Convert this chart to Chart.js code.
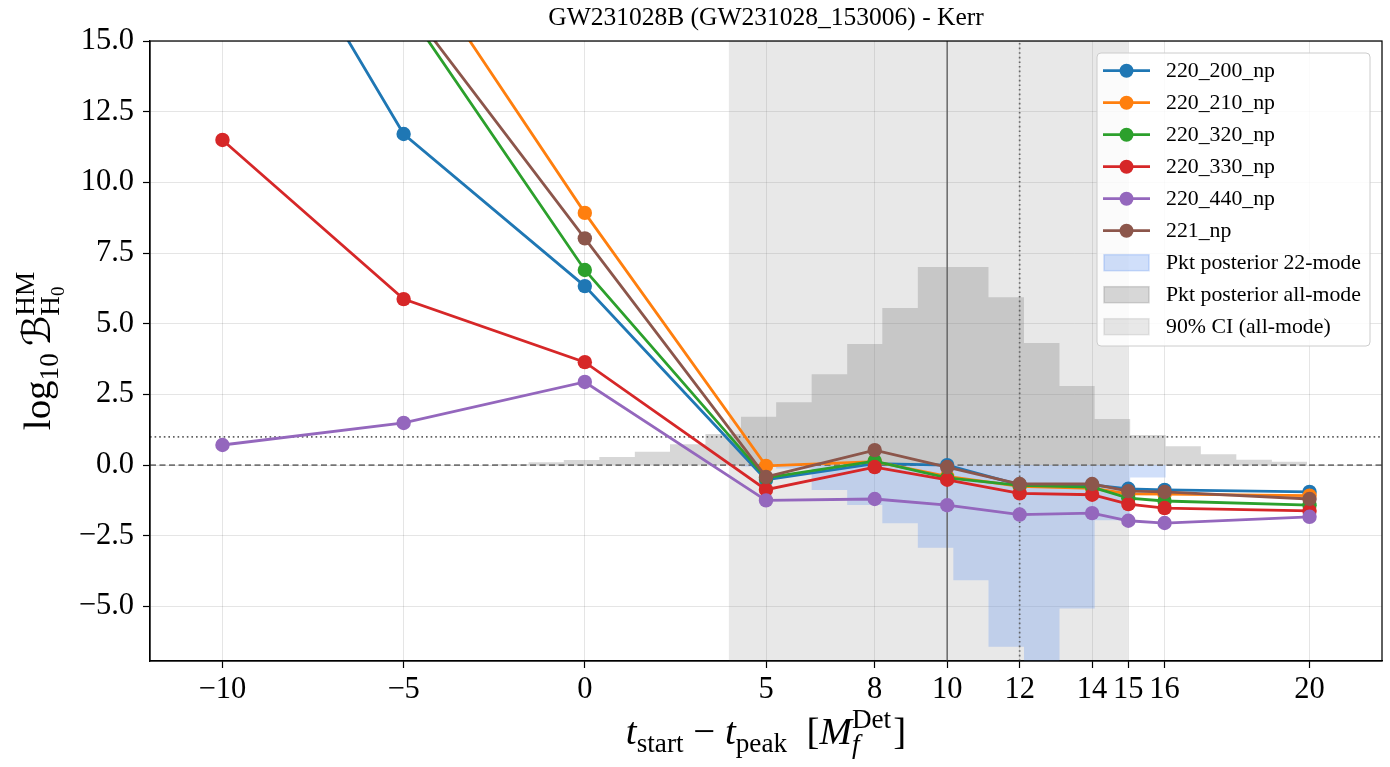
<!DOCTYPE html>
<html><head><meta charset="utf-8">
<script src="https://cdn.jsdelivr.net/npm/chart.js@4.4.1/dist/chart.umd.min.js"></script>
<style>html,body{margin:0;padding:0;background:#fff;}canvas{display:block;}</style>
</head><body>
<canvas id="c" width="1390" height="767"></canvas>
<script>
// ---------------- data ----------------
const titleText = 'GW231028B (GW231028_153006) - Kerr';
const tStart = [-10, -5, 0, 5, 8, 10, 12, 14, 15, 16, 20];
const xTicks = [-10, -5, 0, 5, 8, 10, 12, 14, 15, 16, 20];
const yTicks = [-5, -2.5, 0, 2.5, 5, 7.5, 10, 12.5, 15];
const xRange = [-12, 22];
const yRange = [-6.93, 15];

const seriesNames = ['220_200_np', '220_210_np', '220_320_np', '220_330_np', '220_440_np', '221_np'];
const seriesColors = ['#1f77b4', '#ff7f0e', '#2ca02c', '#d62728', '#9467bd', '#8c564b'];
const bf_220_200 = [22.5, 11.71, 6.33, -0.52, 0.05, 0.0, -0.70, -0.70, -0.84, -0.88, -0.95];
const bf_220_210 = [27.5, 18.5, 8.92, -0.03, 0.12, -0.40, -0.75, -0.82, -1.02, -1.03, -1.08];
const bf_220_320 = [25.0, 16.28, 6.90, -0.45, 0.14, -0.45, -0.72, -0.78, -1.17, -1.27, -1.42];
const bf_220_330 = [11.50, 5.87, 3.64, -0.87, -0.07, -0.52, -1.00, -1.05, -1.38, -1.52, -1.62];
const bf_220_440 = [0.71, 1.49, 2.94, -1.25, -1.20, -1.42, -1.75, -1.70, -1.97, -2.05, -1.83];
const bf_221     = [25.5, 16.45, 8.02, -0.42, 0.53, -0.07, -0.67, -0.67, -0.92, -0.95, -1.20];
const seriesValues = [bf_220_200, bf_220_210, bf_220_320, bf_220_330, bf_220_440, bf_221];

const histEdges = [-2.53, -1.55, -0.58, 0.40, 1.38, 2.35, 3.33, 4.31, 5.28, 6.26, 7.24, 8.21,
                   9.19, 10.17, 11.14, 12.12, 13.10, 14.07, 15.05, 16.03, 17.00, 17.98, 18.96, 19.93];
const histAllMode = [0.03, 0.10, 0.18, 0.29, 0.47, 0.74, 1.10, 1.71, 2.22, 3.21, 4.28, 5.56,
                     7.01, 7.01, 5.94, 4.32, 2.80, 1.63, 1.06, 0.67, 0.38, 0.19, 0.12];
const hist22Mode = [0, 0, 0, 0, 0, 0, 0, -0.05, -0.12, -0.88, -1.41, -2.06,
                    -2.92, -4.07, -6.43, -8.60, -5.07, -1.95, -0.44, 0, 0, 0, 0];
const ci90 = [3.97, 14.99];
const hLineZero = 0;
const hLineThreshold = 1;
const vLineSolid = 10;
const vLineDotted = 12;

const legendExtra = ['Pkt posterior 22-mode', 'Pkt posterior all-mode', '90% CI (all-mode)'];

// ---------------- helpers ----------------
function histPoints(edges, h) {
  const pts = [{x: edges[0], y: 0}];
  for (let i = 0; i < h.length; i++) {
    pts.push({x: edges[i], y: h[i]});
    pts.push({x: edges[i + 1], y: h[i]});
  }
  pts.push({x: edges[edges.length - 1], y: 0});
  return pts;
}
const SERIF = '"Liberation Serif", "DejaVu Serif", serif';
const fmtMinus = v => (v < 0 ? '\u2212' : '') + Math.abs(v);

const colAll = 'rgba(128,128,128,0.315)';
const col22 = 'rgba(100,149,237,0.30)';
const colCI = 'rgba(128,128,128,0.18)';

const datasets = [];
seriesNames.forEach((n, k) => {
  datasets.push({
    label: n,
    data: tStart.map((t, i) => ({x: t, y: seriesValues[k][i]})),
    borderColor: seriesColors[k], backgroundColor: seriesColors[k],
    borderWidth: 2.8, pointRadius: 7.2, pointBorderWidth: 0,
    pointBackgroundColor: seriesColors[k], fill: false, tension: 0,
    order: 10 + (5 - k), clip: 0
  });
});
datasets.push({label: 'hlineZero', data: [{x: xRange[0], y: hLineZero}, {x: xRange[1], y: hLineZero}],
  borderColor: 'rgba(110,110,110,0.95)', borderDash: [6, 3.5], borderWidth: 1.6, pointRadius: 0, order: 30, clip: 0});
datasets.push({label: 'hlineOne', data: [{x: xRange[0], y: hLineThreshold}, {x: xRange[1], y: hLineThreshold}],
  borderColor: 'rgba(80,80,80,0.9)', borderDash: [1.6, 3.0], borderWidth: 1.7, pointRadius: 0, order: 30, clip: 0});
datasets.push({label: 'vline10', data: [{x: vLineSolid, y: yRange[0]}, {x: vLineSolid, y: yRange[1]}],
  borderColor: 'rgba(100,100,100,0.9)', borderWidth: 1.6, pointRadius: 0, order: 30, clip: 0});
datasets.push({label: 'vline12', data: [{x: vLineDotted, y: yRange[0]}, {x: vLineDotted, y: yRange[1]}],
  borderColor: 'rgba(90,90,90,0.9)', borderDash: [1.6, 3.0], borderWidth: 1.7, pointRadius: 0, order: 30, clip: 0});
datasets.push({label: legendExtra[0], data: histPoints(histEdges, hist22Mode),
  borderColor: 'rgba(0,0,0,0)', borderWidth: 0, backgroundColor: col22, fill: 'origin', pointRadius: 0, order: 40, clip: 0});
datasets.push({label: legendExtra[1], data: histPoints(histEdges, histAllMode),
  borderColor: 'rgba(0,0,0,0)', borderWidth: 0, backgroundColor: colAll, fill: 'origin', pointRadius: 0, order: 40, clip: 0});
datasets.push({label: legendExtra[2], data: [{x: ci90[0], y: yRange[1]}, {x: ci90[1], y: yRange[1]}],
  borderColor: 'rgba(0,0,0,0)', borderWidth: 0, backgroundColor: colCI, fill: 'start', pointRadius: 0, order: 50, clip: 0});

// rich text drawing
function fontOf(p) { return (p.it ? 'italic ' : '') + p.size + 'px ' + (p.fam || SERIF); }
function partWidth(ctx, p) {
  if (p.stack) return Math.max(...p.stack.map(q => partWidth(ctx, q)));
  if (p.gap) return p.gap;
  ctx.font = fontOf(p);
  let w = ctx.measureText(p.t).width;
  if (p.next) w += partWidth(ctx, p.next);
  return w;
}
function drawPart(ctx, p, x, y) {
  if (p.stack) { p.stack.forEach(q => drawPart(ctx, q, x, y)); return; }
  if (p.gap) return;
  ctx.font = fontOf(p);
  ctx.fillText(p.t, x, y + (p.dy || 0));
  if (p.next) drawPart(ctx, p.next, x + ctx.measureText(p.t).width, y);
}
function drawRich(ctx, parts, cx, y) {
  const total = parts.reduce((s, p) => s + partWidth(ctx, p), 0);
  let x = cx - total / 2;
  ctx.textAlign = 'left'; ctx.textBaseline = 'alphabetic';
  parts.forEach(p => { drawPart(ctx, p, x, y); x += partWidth(ctx, p); });
}

const decor = {
  id: 'decor',
  afterDraw(chart) {
    const ctx = chart.ctx, a = chart.chartArea;
    ctx.save();
    ctx.strokeStyle = '#000'; ctx.lineWidth = 1.25;
    ctx.strokeRect(a.left, a.top, a.right - a.left, a.bottom - a.top);
    ctx.fillStyle = '#000';
    // x label
    const F = 38.9, s = F * 0.7;
    const xl = [
      {t: 't', size: F, it: true},
      {t: 'start', size: s, dy: 0.2 * F},
      {t: ' \u2212 ', size: F},
      {t: 't', size: F, it: true},
      {t: 'peak', size: s, dy: 0.2 * F},
      {t: '  [', size: F},
      {t: 'M', size: F, it: true},
      {stack: [{t: 'Det', size: s, dy: -0.42 * F}, {t: 'f', size: s, it: true, dy: 0.24 * F}]},
      {gap: 2},
      {t: ']', size: F}
    ];
    drawRich(ctx, xl, (a.left + a.right) / 2, 744);
    // y label
    ctx.save();
    ctx.translate(50, (a.top + a.bottom) / 2);
    ctx.rotate(-Math.PI / 2);
    const yl = [
      {t: 'log', size: F},
      {t: '10', size: s, dy: 0.2 * F},
      {gap: 0.18 * F},
      {t: '\u212C', size: F, fam: '"DejaVu Serif", "DejaVu Sans", serif'},
      {stack: [{t: 'HM', size: s, dy: -0.42 * F},
               {t: 'H', size: s, dy: 0.24 * F, next: {t: '0', size: s * 0.7, dy: 0.36 * F}}]}
    ];
    drawRich(ctx, yl, 0, 0);
    ctx.restore();

    // legend
    const lx = 1097, ly = 53, lw = 273, lh = 293, r = 4;
    ctx.beginPath();
    ctx.moveTo(lx + r, ly); ctx.lineTo(lx + lw - r, ly); ctx.quadraticCurveTo(lx + lw, ly, lx + lw, ly + r);
    ctx.lineTo(lx + lw, ly + lh - r); ctx.quadraticCurveTo(lx + lw, ly + lh, lx + lw - r, ly + lh);
    ctx.lineTo(lx + r, ly + lh); ctx.quadraticCurveTo(lx, ly + lh, lx, ly + lh - r);
    ctx.lineTo(lx, ly + r); ctx.quadraticCurveTo(lx, ly, lx + r, ly); ctx.closePath();
    ctx.fillStyle = 'rgba(255,255,255,0.82)'; ctx.fill();
    ctx.strokeStyle = 'rgba(204,204,204,1)'; ctx.lineWidth = 1; ctx.stroke();
    const ds = chart.data.datasets;
    const items = [];
    seriesNames.forEach(n => items.push(ds.find(d => d.label === n)));
    legendExtra.forEach(n => items.push(ds.find(d => d.label === n)));
    ctx.font = '21.8px ' + SERIF;
    ctx.textBaseline = 'middle'; ctx.textAlign = 'left';
    items.forEach((d, i) => {
      const cy = 70.7 + i * 32.0;
      if (i < seriesNames.length) {
        ctx.strokeStyle = d.borderColor; ctx.lineWidth = 2.8;
        ctx.beginPath(); ctx.moveTo(1103, cy); ctx.lineTo(1150, cy); ctx.stroke();
        ctx.fillStyle = d.borderColor;
        ctx.beginPath(); ctx.arc(1126.5, cy, 7, 0, Math.PI * 2); ctx.fill();
      } else {
        ctx.fillStyle = d.backgroundColor; ctx.strokeStyle = d.backgroundColor; ctx.lineWidth = 1.5;
        ctx.fillRect(1104, cy - 8, 45, 16); ctx.strokeRect(1104, cy - 8, 45, 16);
      }
      ctx.fillStyle = '#000';
      ctx.fillText(d.label, 1166, cy + 1);
    });
    ctx.restore();
  }
};

new Chart(document.getElementById('c'), {
  type: 'line',
  data: {datasets},
  plugins: [decor],
  options: {
    responsive: false, animation: false, devicePixelRatio: 1, events: [],
    layout: {padding: {left: 0, right: 8, top: 0, bottom: 0}},
    plugins: {
      legend: {display: false}, tooltip: {enabled: false},
      title: {display: true, text: titleText, fullSize: false, color: '#000',
        font: {family: SERIF, size: 25.5, weight: 'normal'}, padding: {top: 3.4, bottom: 7}}
    },
    scales: {
      x: {
        type: 'linear', min: xRange[0], max: xRange[1],
        afterBuildTicks: sc => { sc.ticks = xTicks.map(v => ({value: v})); },
        afterFit: sc => { sc.height = 106; },
        grid: {color: 'rgba(0,0,0,0.1)', lineWidth: 1, tickColor: '#000', tickLength: 7, tickWidth: 1.2},
        border: {color: '#000', width: 1.25},
        ticks: {autoSkip: false, maxRotation: 0, padding: 4, color: '#000',
          font: {family: SERIF, size: 30.5}, callback: v => fmtMinus(v)}
      },
      y: {
        type: 'linear', min: yRange[0], max: yRange[1],
        afterBuildTicks: sc => { sc.ticks = yTicks.map(v => ({value: v})); },
        afterFit: sc => { sc.width = 150; },
        grid: {color: 'rgba(0,0,0,0.1)', lineWidth: 1, tickColor: '#000', tickLength: 7, tickWidth: 1.2},
        border: {color: '#000', width: 1.25},
        ticks: {padding: 9, color: '#000', font: {family: SERIF, size: 30.5},
          callback: v => (v < 0 ? '\u2212' : '') + Math.abs(v).toFixed(1)}
      }
    }
  }
});
</script>
</body></html>
